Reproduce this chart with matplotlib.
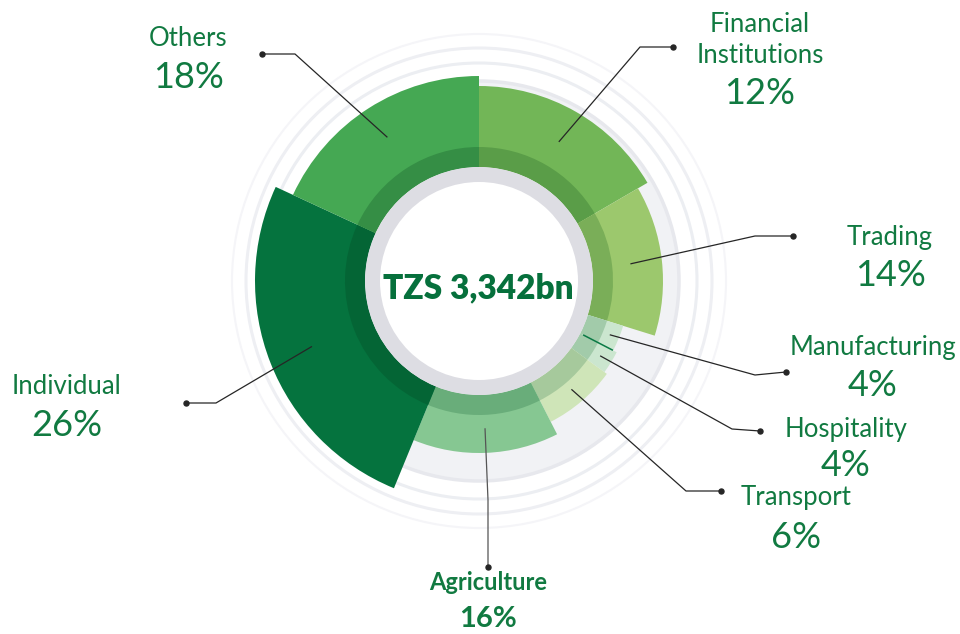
"""Loan book by sector: variable-depth donut."""

import numpy as np
import matplotlib.pyplot as plt
from matplotlib.patches import Wedge, Circle

plt.rcParams['font.family'] = ['Lato', 'DejaVu Sans']

W, H = 960, 634
CX, CY = 479, H - 281

SECTORS = ["Financial\nInstitutions", "Trading", "Manufacturing",
           "Hospitality", "Transport", "Agriculture", "Individual", "Others"]
PCT = [12, 14, 4, 4, 6, 16, 26, 18]
# angular share of each slice as drawn in the source graphic
ARC_SHARE = [16.6, 13.2, 2.8, 2.4, 7.5, 13.7, 25.7, 18.1]
# radial depth of each slice
DEPTH = [195, 184, 151, 155, 158, 172, 224, 205]
TOTAL = "TZS 3,342bn"

OUTER_COLORS = ["#72b657", "#9cc86d", "#cbe6cf", "#cbe6cf",
                "#cfe5b8", "#86c792", "#05733e", "#45a853"]
BAND_COLORS = ["#5a9d48", "#7aae58", "#a2cbaa", "#a2cbaa",
               "#a6c99c", "#69ad7a", "#046535", "#358e45"]
TEXT_GREEN = "#117a41"

# label layout in pixel coords: text x, name y, pct y, elbow, dot, start r
LAYOUT = [
    (760, 40, 93, (640, 47), (673, 47), 161),
    (890, 237, 275, (755, 236), (793, 236), 153),
    (873, 348, 386, (755, 375), (786, 372), 142),
    (846, 429, 466, (732, 429), (760, 431), 143),
    (796, 497, 537, (686, 491), (721, 491), 143),
    (488, 583, 619, (488, 500), (488, 567), 148),
    (67, 387, 425, (216, 403), (186, 403), 180),
    (188, 38, 77, (295, 54), (262, 54), 171),
]


def px(x, y):
    return x, H - y


def main():
    fig = plt.figure(figsize=(W / 100, H / 100), dpi=100)
    ax = fig.add_axes([0, 0, 1, 1])
    ax.set_xlim(0, W)
    ax.set_ylim(0, H)
    ax.set_aspect('equal')
    ax.axis('off')

    # background rings
    ax.add_patch(Circle((CX, CY), 247, fc='none', ec='#f5f5f8', lw=1.5))
    ax.add_patch(Circle((CX, CY), 233, fc='none', ec='#eeeff3', lw=2.2))
    ax.add_patch(Circle((CX, CY), 218, fc='none', ec='#eceef2', lw=2.2))
    ax.add_patch(Circle((CX, CY), 200, fc='#f1f2f5', ec='#e7e8ed', lw=2.5))

    shares = np.array(ARC_SHARE) / sum(ARC_SHARE) * 360.0
    start = 90.0
    mids = []
    for i, span in enumerate(shares):
        t2 = start
        t1 = start - span
        ax.add_patch(Wedge((CX, CY), DEPTH[i], t1, t2,
                           width=DEPTH[i] - 114, fc=OUTER_COLORS[i],
                           ec='none'))
        ax.add_patch(Wedge((CX, CY), 134, t1, t2, width=20,
                           fc=BAND_COLORS[i], ec='none'))
        mids.append((t1 + t2) / 2)
        start = t1

    # thin separator between manufacturing and hospitality
    a = np.radians(90 - shares[:3].sum())
    ax.plot([CX + 118 * np.cos(a), CX + 150 * np.cos(a)],
            [CY + 118 * np.sin(a), CY + 150 * np.sin(a)],
            color='#0a7a45', lw=1.1)

    ax.add_patch(Circle((CX, CY), 114, fc='#dddde3', ec='none'))
    ax.add_patch(Circle((CX, CY), 99, fc='white', ec='none'))
    ax.text(*px(478, 288), TOTAL, ha='center', va='center',
            fontsize=24, fontweight='heavy', color='#06703c')

    for i, name in enumerate(SECTORS):
        tx, ny, py, elbow, dot, r0 = LAYOUT[i]
        a = np.radians(mids[i])
        sx, sy = CX + r0 * np.cos(a), CY + r0 * np.sin(a)
        ex, ey = px(*elbow)
        dx, dy = px(*dot)
        lc = '#555555' if name == "Agriculture" else '#262626'
        ax.plot([sx, ex, dx], [sy, ey, dy], color=lc, lw=0.9)
        ax.plot(dx, dy, 'o', color='#262626', ms=3.6)
        bold = name == "Agriculture"
        ax.text(*px(tx, ny), name, ha='center', va='center',
                fontsize=17 if bold else 18.5, color=TEXT_GREEN,
                fontweight='bold' if bold else 'normal', linespacing=1.32)
        ax.text(*px(tx, py), "%d%%" % PCT[i], ha='center', va='center',
                fontsize=21 if bold else 26, color=TEXT_GREEN,
                fontweight='bold' if bold else 'normal')

    fig.savefig('out.png', dpi=100)


if __name__ == '__main__':
    main()
